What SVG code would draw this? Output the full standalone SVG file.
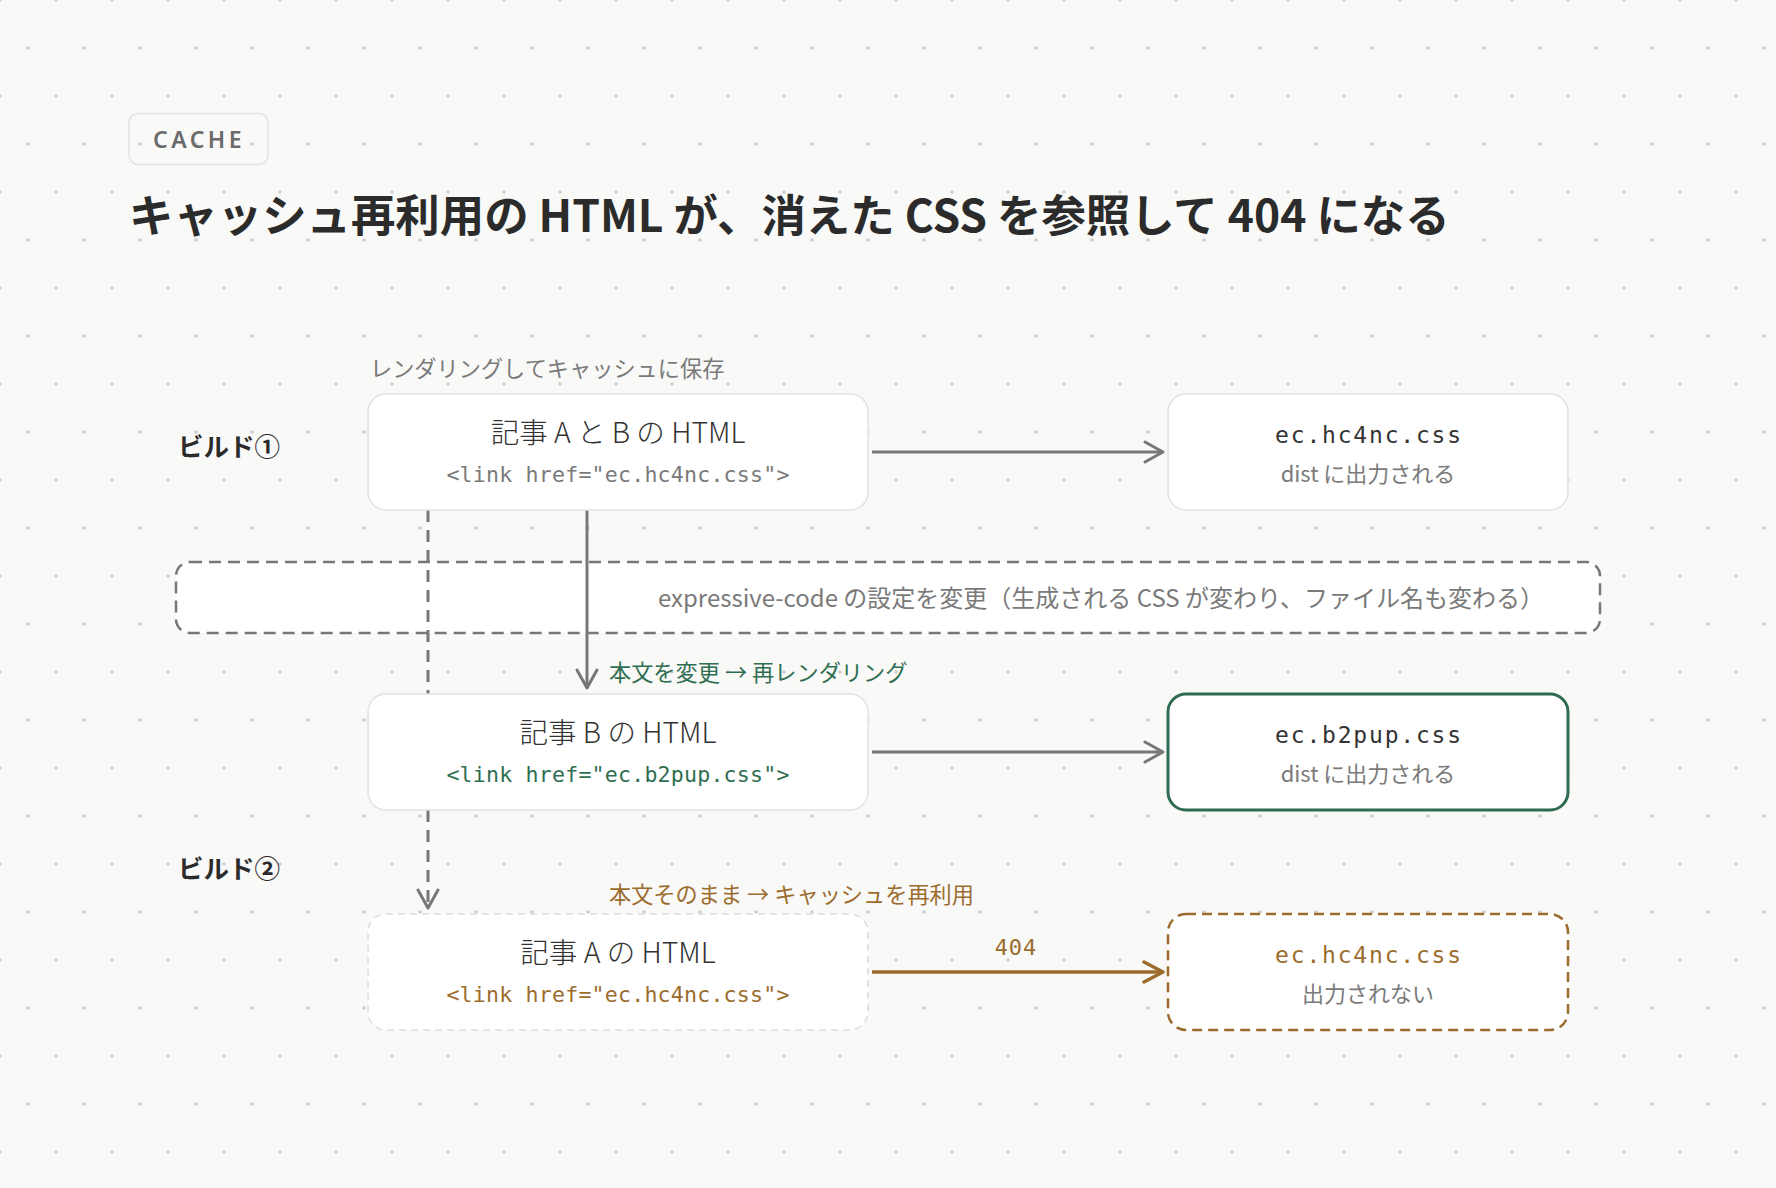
<svg xmlns="http://www.w3.org/2000/svg" width="1776" height="1188" viewBox="0 0 1776 1188">
  <defs>
    <pattern id="dots" width="56" height="96" patternUnits="userSpaceOnUse">
      <circle cx="0" cy="0" r="1.8" fill="#cdcdcd"/>
      <circle cx="56" cy="0" r="1.8" fill="#cdcdcd"/>
      <circle cx="0" cy="96" r="1.8" fill="#cdcdcd"/>
      <circle cx="56" cy="96" r="1.8" fill="#cdcdcd"/>
      <circle cx="28" cy="48" r="1.8" fill="#cdcdcd"/>
    </pattern>
    <marker id="arrGray" markerUnits="userSpaceOnUse" markerWidth="24" markerHeight="24" refX="20" refY="10" orient="auto" overflow="visible">
      <path d="M2,0 L20,10 L2,20" fill="none" stroke="#777777" stroke-width="3" stroke-linecap="round" stroke-linejoin="round"/>
    </marker>
    <marker id="arrBrown" markerUnits="userSpaceOnUse" markerWidth="24" markerHeight="24" refX="21" refY="10" orient="auto" overflow="visible">
      <path d="M2,0 L21,10 L2,20" fill="none" stroke="#9c6c2e" stroke-width="3.5" stroke-linecap="round" stroke-linejoin="round"/>
    </marker>
  </defs>
  <style>
    .jp { font-family: "Noto Sans CJK JP", "Noto Sans", sans-serif; }
    .mono { font-family: "DejaVu Sans Mono", "Liberation Mono", monospace; }
    .box { fill: #ffffff; stroke: #e2e2e0; stroke-width: 1.5; }
    .ntitle { font-size: 28.5px; font-weight: 300; fill: #333333; text-anchor: middle; }
    .code { font-size: 21.6px; text-anchor: middle; letter-spacing: 0.2px; }
    .fname { font-size: 23px; fill: #333333; text-anchor: middle; letter-spacing: 1.8px; }
    .sub { font-size: 22px; fill: #7a7a7a; text-anchor: middle; }
    .build { font-size: 25.5px; font-weight: 700; fill: #2b2b2b; }
    .lbl { font-size: 22.2px; }
    .conn { fill: none; stroke: #777777; stroke-width: 3; }
  </style>

  <rect x="0" y="0" width="1776" height="1188" fill="#f9f9f8"/>
  <rect x="0" y="0" width="1776" height="1188" fill="url(#dots)"/>

  <g id="header">
    <rect x="129" y="113.5" width="139" height="51" rx="9" fill="none" stroke="#e2e2e0" stroke-width="1.5"/>
    <text x="153" y="148" font-family="'Noto Sans', 'DejaVu Sans', sans-serif" font-size="23" font-weight="600" letter-spacing="3.5" fill="#6b6b6b">CACHE</text>
    <text x="129" y="232" class="jp" font-size="44.4" font-weight="700" fill="#2b2b2b">キャッシュ再利用の HTML が、消えた CSS を参照して 404 になる</text>
  </g>

  <g id="build1-label">
    <text x="178" y="456" class="jp build">ビルド①</text>
  </g>
  <g id="build2-label">
    <text x="178" y="878" class="jp build">ビルド②</text>
  </g>

  <g id="config-change">
    <rect x="176" y="562" width="1424" height="71" rx="14" fill="#ffffff" stroke="#777777" stroke-width="2.5" stroke-dasharray="12 7"/>
    <text x="1101" y="607" class="jp" font-size="24" fill="#7a7a7a" text-anchor="middle">expressive-code の設定を変更（生成される CSS が変わり、ファイル名も変わる）</text>
  </g>

  <g id="connectors">
    <path class="conn" d="M872,452 H1163" marker-end="url(#arrGray)"/>
    <path class="conn" d="M587,510 V688" marker-end="url(#arrGray)"/>
    <path class="conn" d="M428,510 V908" stroke-dasharray="12 8" marker-end="url(#arrGray)"/>
    <path class="conn" d="M872,752 H1163" marker-end="url(#arrGray)"/>
    <path d="M872,972 H1163" fill="none" stroke="#9c6c2e" stroke-width="3.5" marker-end="url(#arrBrown)"/>
    <text x="370" y="377" class="jp lbl" fill="#7a7a7a">レンダリングしてキャッシュに保存</text>
    <text x="609" y="681" class="jp lbl" fill="#2f6e51">本文を変更 → 再レンダリング</text>
    <text x="609" y="903" class="jp lbl" fill="#9c6c2e">本文そのまま → キャッシュを再利用</text>
    <text x="1016" y="955" class="mono" font-size="22" fill="#9c6c2e" text-anchor="middle" letter-spacing="1">404</text>
  </g>

  <g id="html-ab">
    <rect class="box" x="368" y="394" width="500" height="116" rx="18"/>
    <text x="618" y="443" class="jp ntitle">記事 A と B の HTML</text>
    <text x="618" y="482" class="mono code" fill="#7a7a7a">&lt;link href="ec.hc4nc.css"&gt;</text>
  </g>

  <g id="css-hc4nc-1">
    <rect class="box" x="1168" y="394" width="400" height="116" rx="18"/>
    <text x="1369" y="443" class="mono fname">ec.hc4nc.css</text>
    <text x="1368" y="482" class="jp sub">dist に出力される</text>
  </g>

  <g id="html-b">
    <rect class="box" x="368" y="694" width="500" height="116" rx="18"/>
    <text x="618" y="743" class="jp ntitle">記事 B の HTML</text>
    <text x="618" y="782" class="mono code" fill="#2f6e51">&lt;link href="ec.b2pup.css"&gt;</text>
  </g>

  <g id="css-b2pup">
    <rect x="1168" y="694" width="400" height="116" rx="18" fill="#ffffff" stroke="#2f6b50" stroke-width="3"/>
    <text x="1369" y="743" class="mono fname">ec.b2pup.css</text>
    <text x="1368" y="782" class="jp sub">dist に出力される</text>
  </g>

  <g id="html-a">
    <rect x="368" y="914" width="500" height="116" rx="18" fill="#ffffff" stroke="#dddddb" stroke-width="1.5" stroke-dasharray="7 5"/>
    <text x="618" y="963" class="jp ntitle">記事 A の HTML</text>
    <text x="618" y="1002" class="mono code" fill="#9c6c2e">&lt;link href="ec.hc4nc.css"&gt;</text>
  </g>

  <g id="css-hc4nc-2">
    <rect x="1168" y="914" width="400" height="116" rx="18" fill="#ffffff" stroke="#9c6c2e" stroke-width="2.5" stroke-dasharray="10 6"/>
    <text x="1369" y="963" class="mono fname" style="fill:#9c6c2e">ec.hc4nc.css</text>
    <text x="1368" y="1002" class="jp sub">出力されない</text>
  </g>
</svg>
